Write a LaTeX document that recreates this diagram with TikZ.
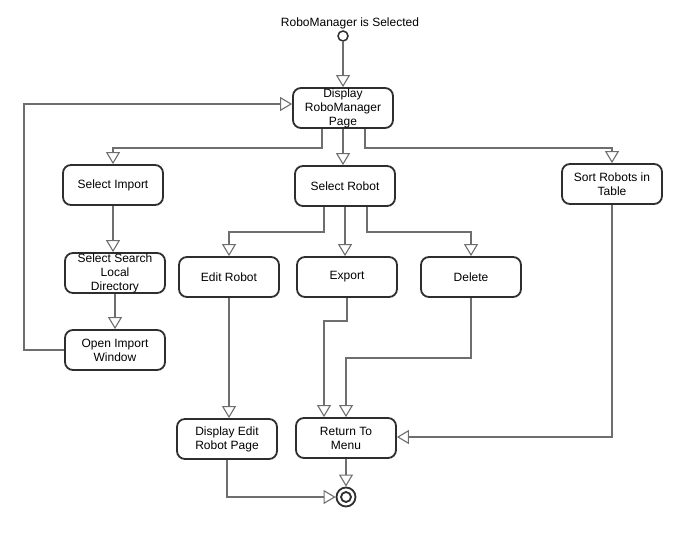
\documentclass[tikz,border=0pt]{standalone}
\usepackage{fontspec}
\setmainfont{Liberation Sans}
\usetikzlibrary{arrows.meta}

\definecolor{linegray}{HTML}{6E6E6E}
\definecolor{boxline}{HTML}{2E2E2E}

\tikzset{
    act/.style={rectangle, rounded corners=8pt, draw=boxline, line width=1.8pt, fill=white,
        minimum width=100pt, minimum height=40pt, inner sep=0pt, align=center,
        font=\fontsize{12}{14}\selectfont},
    flow/.style={draw=linegray, line width=1.3pt,
        -{Triangle[open, length=12pt, width=14pt, line width=1.1pt]}}
}

\begin{document}
\begin{tikzpicture}[x=1pt, y=-1pt]
    \useasboundingbox (0,0) rectangle (695,535);

    \node (T) at (350, 23) {\fontsize{12}{14}\selectfont RoboManager is Selected};
    \node (S) [circle, draw=boxline, line width=1.5pt, fill=white, minimum size=10pt, inner sep=0pt] at (343, 36) {};

    \node (disp) [act] at (343, 108) {Display\\RoboManager\\Page};
    \node (imp) [act] at (113, 185) {Select Import};
    \node (rob) [act] at (345, 186) {Select Robot};
    \node (sort) [act] at (612, 184) {Sort Robots in\\Table};
    \node (dir) [act] at (115, 273) {Select Search\\Local\\Directory};
    \node (edit) [act] at (229, 277) {Edit Robot};
    \node (exp) [act] at (347, 277) {Export};
    \node (del) [act] at (471, 277) {Delete};
    \node (win) [act] at (115, 350) {Open Import\\Window};
    \node (dedit) [act] at (227, 439) {Display Edit\\Robot Page};
    \node (ret) [act] at (346, 438) {Return To\\Menu};

    \node (E) [circle, draw=boxline, line width=1.8pt, fill=white, minimum size=19pt, inner sep=0pt] at (346, 497) {};
    \node (Ein) [circle, draw=boxline, line width=1.8pt, minimum size=10pt, inner sep=0pt] at (E) {};

    \draw [flow] (S) -- (disp);
    \draw [flow] ([xshift=-21pt]disp.south) -- ++(0,19) -| (imp.north);
    \draw [flow] (disp.south) -- (disp.south |- rob.north);
    \draw [flow] ([xshift=22pt]disp.south) -- ++(0,19) -| (sort.north);
    \draw [flow] (imp.south) -- (imp.south |- dir.north);
    \draw [flow] (dir) -- (win);
    \draw [flow] (win.west) -- ++(-40,0) |- ([yshift=4pt]disp.west);
    \draw [flow] ([xshift=-21pt]rob.south) -- ++(0,25) -| (edit.north);
    \draw [flow] (rob.south) -- (rob.south |- exp.north);
    \draw [flow] ([xshift=22pt]rob.south) -- ++(0,25) -| (del.north);
    \draw [flow] (edit) -- (edit.south |- dedit.north);
    \draw [flow] (exp.south) -- ++(0,23) -| ([xshift=-22pt]ret.north);
    \draw [flow] (del.south) -- ++(0,60) -| (ret.north);
    \draw [flow] (sort.south) |- ([yshift=1pt]ret.east);
    \draw [flow] (dedit.south) |- (E.west);
    \draw [flow] (ret) -- (E);
\end{tikzpicture}
\end{document}
